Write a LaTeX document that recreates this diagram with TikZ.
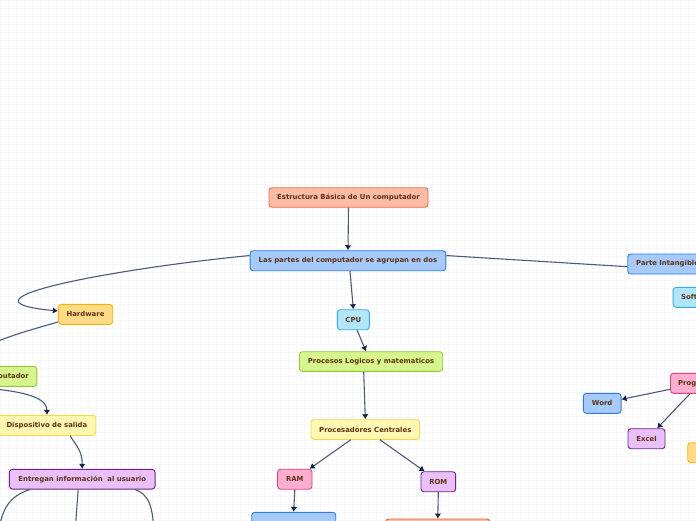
\documentclass[tikz,border=0pt]{standalone}
\usepackage{fontspec}
\setmainfont{DejaVu Sans}
\usetikzlibrary{arrows.meta,calc}
\definecolor{txt}{RGB}{92,52,18}
\definecolor{edgec}{RGB}{74,90,124}
\definecolor{tipc}{RGB}{20,34,74}
\definecolor{gridc}{RGB}{247,247,249}
\definecolor{salmonF}{RGB}{251,187,165}\definecolor{salmonD}{RGB}{240,106,72}
\definecolor{blueF}{RGB}{166,202,251}\definecolor{blueD}{RGB}{46,124,230}
\definecolor{cyanF}{RGB}{178,230,251}\definecolor{cyanD}{RGB}{53,174,232}
\definecolor{orangeF}{RGB}{255,219,136}\definecolor{orangeD}{RGB}{246,180,0}
\definecolor{greenF}{RGB}{214,245,140}\definecolor{greenD}{RGB}{147,200,60}
\definecolor{yellowF}{RGB}{255,247,178}\definecolor{yellowD}{RGB}{238,220,76}
\definecolor{purpleF}{RGB}{235,192,250}\definecolor{purpleD}{RGB}{110,36,133}
\definecolor{pinkF}{RGB}{255,174,208}\definecolor{pinkD}{RGB}{230,63,130}
\definecolor{redD}{RGB}{232,99,46}
\tikzset{
  box/.style={draw, rounded corners=3pt, line width=0.9pt, text=txt,
    font=\fontsize{6.9}{8}\selectfont\bfseries, inner sep=0pt, minimum height=20pt},
  salmonbox/.style={box, fill=salmonF, draw=salmonD},
  bluebox/.style={box, fill=blueF, draw=blueD},
  cyanbox/.style={box, fill=cyanF, draw=cyanD},
  orangebox/.style={box, fill=orangeF, draw=orangeD},
  greenbox/.style={box, fill=greenF, draw=greenD},
  yellowbox/.style={box, fill=yellowF, draw=yellowD},
  purplebox/.style={box, fill=purpleF, draw=purpleD},
  pinkbox/.style={box, fill=pinkF, draw=pinkD},
  redbox/.style={box, fill=salmonF, draw=redD},
  conn/.style={draw=edgec, line width=1.1pt, -{Latex[length=5pt,width=6.5pt,color=tipc]}},
  plainconn/.style={draw=edgec, line width=1.1pt},
}
\begin{document}
\begin{tikzpicture}[x=1pt,y=-1pt]
\useasboundingbox (0,0) rectangle (696,520);
\clip (0,0) rectangle (696,520);
\fill[white] (0,0) rectangle (696,520);
\draw[gridc, line width=0.4pt, step=8pt] (0,0) grid (696,520);

% nodes
\node[salmonbox, minimum width=159pt, minimum height=19.5pt] (est) at (348.5,197.5) {Estructura Básica de Un computador};
\node[bluebox, minimum width=195.7pt] (partes) at (348,260.7) {Las partes del computador se agrupan en dos};
\node[bluebox, anchor=west, align=left, text width=120pt, inner xsep=8.4pt] (intang) at (627.3,264) {Parte Intangible};
\node[cyanbox, anchor=west, align=left, text width=40pt, inner xsep=8pt] (soft) at (672.7,297.3) {Software};
\node[orangebox, minimum width=54.4pt] (hardware) at (85.5,314.3) {Hardware};
\node[greenbox, anchor=east, align=right, text width=120pt, inner xsep=8pt] (green) at (37.3,376.3) {computador};
\node[yellowbox, minimum width=97.6pt] (disp) at (46.9,425.3) {Dispositivo de salida};
\node[purplebox, minimum width=145.7pt, minimum height=19.7pt] (entregan) at (82.2,479.2) {Entregan información\ \ al usuario};
\node[cyanbox, minimum width=32pt] (cpu) at (353.3,319.7) {CPU};
\node[greenbox, minimum width=143.4pt, minimum height=19.6pt] (procesos) at (371,361.5) {Procesos Logicos y matematicos};
\node[yellowbox, minimum width=108.7pt, minimum height=19.6pt] (procesadores) at (365.3,429.5) {Procesadores Centrales};
\node[pinkbox, minimum width=34.3pt] (ram) at (294.8,479.2) {RAM};
\node[purplebox, minimum width=34.7pt] (rom) at (438.3,481.7) {ROM};
\node[bluebox, minimum width=84pt] (bluebot) at (293.7,522.3) {};
\node[redbox, minimum width=104.3pt] (redbot) at (437.8,529) {};
\node[pinkbox, anchor=west, align=left, text width=42pt, inner xsep=7.7pt] (prog) at (670,383.3) {Programas};
\node[bluebox, minimum width=37.7pt] (word) at (602.2,403.3) {Word};
\node[purplebox, minimum width=37pt] (excel) at (646.5,438.7) {Excel};
\node[orangebox, anchor=west, minimum width=60pt] (orangeR) at (687.3,452.7) {};

% off-canvas ends
\coordinate (e1) at (-2,560);
\coordinate (e2) at (74,545);
\coordinate (e3) at (154,545);

% connectors
\draw[conn] (est.south) -- (partes.north);
\draw[plainconn] (partes.3) -- ([yshift=-2.7pt]intang.west);
\draw[conn] (partes.177) .. controls (120,268) and (-58,300) .. ([yshift=3.3pt]hardware.west);
\draw[conn] ([yshift=-7.7pt]hardware.west) .. controls (20,333) and (-25,345) .. (green.north);
\draw[conn] (green.south) .. controls (15,390) and (46.9,395) .. (disp.north);
\draw[conn] ([xshift=23.2pt]disp.south) .. controls (78,448) and (82.2,452) .. (entregan.north);
\draw[conn] ([xshift=-52pt]entregan.south) .. controls (10,496) and (-3,508) .. (e1);
\draw[conn] ([xshift=-4pt]entregan.south) -- (e2);
\draw[conn] ([xshift=52.8pt]entregan.south) .. controls (148,494) and (154,505) .. (e3);
\draw[conn] ([xshift=2pt]partes.south) -- (cpu.north);
\draw[conn] (cpu.-70) -- ([xshift=-5pt]procesos.north);
\draw[conn] ([xshift=-7.3pt]procesos.south) -- (procesadores.north);
\draw[conn] ([xshift=-14.6pt]procesadores.south) -- ([xshift=-2.7pt]ram.north east);
\draw[conn] ([xshift=14.7pt]procesadores.south) -- ([xshift=4pt]rom.north west);
\draw[conn] (ram.south) -- (bluebot.north);
\draw[conn] (rom.south) -- (redbot.north);
\draw[conn] (soft.south) -- (prog.north);
\draw[conn] ([yshift=-6pt]prog.west) -- ([yshift=4pt]word.east);
\draw[conn] ([xshift=20pt]prog.south west) -- ([xshift=-8.3pt]excel.north east);
\end{tikzpicture}
\end{document}
